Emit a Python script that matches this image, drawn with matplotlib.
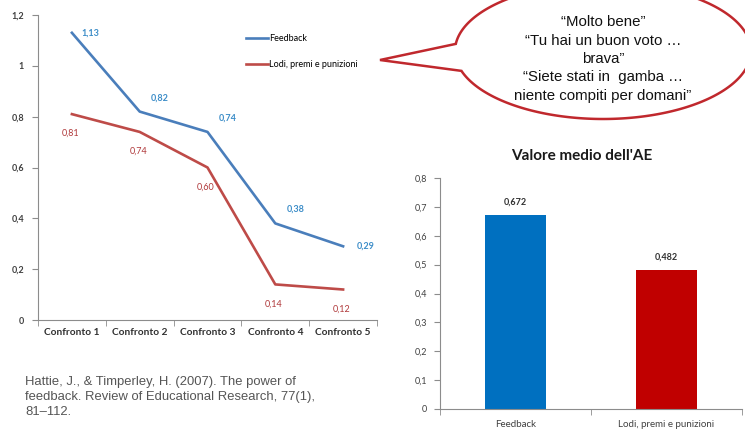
import numpy as np
import matplotlib
matplotlib.use("Agg")
import matplotlib.pyplot as plt
from matplotlib.patches import Polygon

# data
confronti = ["Confronto 1", "Confronto 2", "Confronto 3", "Confronto 4", "Confronto 5"]
feedback = [1.13, 0.82, 0.74, 0.38, 0.29]
lodi = [0.81, 0.74, 0.60, 0.14, 0.12]
series_names = ["Feedback", "Lodi, premi e punizioni"]
bar_labels = ["Feedback", "Lodi, premi e punizioni"]
bar_values = [0.672, 0.482]
left_yticks = [0, 0.2, 0.4, 0.6, 0.8, 1.0, 1.2]
right_yticks = [0, 0.1, 0.2, 0.3, 0.4, 0.5, 0.6, 0.7, 0.8]
bubble_lines = ["\u201cMolto bene\u201d", "\u201cTu hai un buon voto \u2026", "brava\u201d",
                "\u201cSiete stati in  gamba \u2026", "niente compiti per domani\u201d"]
citation = ("Hattie, J., & Timperley, H. (2007). The power of\n"
            "feedback. Review of Educational Research, 77(1),\n"
            "81\u2013112.")

BLUE_LINE = "#4A7EBB"
RED_LINE = "#BE4B48"
BLUE_LBL = "#3C8DC8"
RED_LBL = "#B0393B"
BLUE_BAR = "#0070C0"
RED_BAR = "#C00000"
AXC = "#8C8C8C"
TXT = "#404040"


def comma(v, nd=None):
    s = f"{v:g}" if nd is None else f"{v:.{nd}f}"
    return s.replace(".", ",")


W, H = 745, 429
fig = plt.figure(figsize=(W / 100, H / 100), dpi=100)
fig.patch.set_facecolor("white")


def frac(l, t, r, b):
    return [l / W, 1 - b / H, (r - l) / W, (b - t) / H]


# ---- left line chart ----
ax = fig.add_axes(frac(38, 15, 377, 320))
x = np.arange(len(confronti))
ax.plot(x, feedback, color=BLUE_LINE, lw=1.9, label=series_names[0])
ax.plot(x, lodi, color=RED_LINE, lw=1.9, label=series_names[1])
ax.set_xlim(-0.5, len(confronti) - 0.5)
ax.set_ylim(0, 1.2)
ax.set_yticks(left_yticks)
ax.set_yticklabels([comma(v) for v in left_yticks], fontsize=6.5, color=TXT,
                   family="Lato", fontweight="bold")
ax.set_xticks(x)
ax.set_xticklabels(confronti, fontsize=7.3, color="#303030", family="Lato",
                   fontweight="bold")
ax.set_xticks(np.arange(len(confronti) + 1) - 0.5, minor=True)
ax.tick_params(axis="x", which="major", length=0, pad=6)
ax.tick_params(axis="x", which="minor", length=4, color=AXC)
ax.tick_params(axis="y", length=4, color=AXC, pad=6)
for s in ["top", "right"]:
    ax.spines[s].set_visible(False)
for s in ["left", "bottom"]:
    ax.spines[s].set_color(AXC)

blue_off = [(7, 0), (8, 10), (8, 10), (8, 10), (10, 0)]
for i, v in enumerate(feedback):
    ax.annotate(comma(v, 2), (x[i], v), xytext=blue_off[i], textcoords="offset points",
                ha="left", va="center", fontsize=6.5, color=BLUE_LBL, family="Lato",
                fontweight="bold")
for i, v in enumerate(lodi):
    ax.annotate(comma(v, 2), (x[i], v), xytext=(-1, -14), textcoords="offset points",
                ha="center", va="center", fontsize=6.5, color=RED_LBL, family="Lato")

ax.legend(loc="upper left", bbox_to_anchor=(0.59, 0.965), frameon=False,
          handlelength=2.4, handletextpad=0.1, labelspacing=1.9,
          prop={"family": "Lato", "size": 6.5})

# ---- right bar chart ----
bx = fig.add_axes(frac(440, 178, 742, 409))
xb = np.arange(len(bar_labels))
bx.bar(xb, bar_values, width=0.4, color=[BLUE_BAR, RED_BAR])
bx.set_xlim(-0.5, len(bar_labels) - 0.5)
bx.set_ylim(0, 0.8)
bx.set_yticks(right_yticks)
bx.set_yticklabels([comma(v) for v in right_yticks], fontsize=6.5, color=TXT,
                   family="Lato")
bx.set_xticks(xb)
bx.set_xticklabels(bar_labels, fontsize=7, color=TXT, family="Lato")
bx.set_xticks(np.arange(len(bar_labels) + 1) - 0.5, minor=True)
bx.tick_params(axis="x", which="major", length=0, pad=8)
bx.tick_params(axis="x", which="minor", length=4, color=AXC)
bx.tick_params(axis="y", length=4, color=AXC, pad=5)
for s in ["top", "right"]:
    bx.spines[s].set_visible(False)
for s in ["left", "bottom"]:
    bx.spines[s].set_color(AXC)
for i, v in enumerate(bar_values):
    bx.annotate(comma(v, 3), (xb[i], v), xytext=(0, 9), textcoords="offset points",
                ha="center", va="center", fontsize=6.5, color="#303030",
                family="Lato", fontweight="bold")
fig.text(582 / W, 1 - 156 / H, "Valore medio dell'AE", ha="center", va="center",
         fontsize=11, fontweight="bold", family="Lato", color="#1a1a1a")

# ---- speech bubble and citation (pixel overlay) ----
ov = fig.add_axes([0, 0, 1, 1], zorder=5)
ov.set_xlim(0, W)
ov.set_ylim(H, 0)
ov.axis("off")
ov.patch.set_alpha(0)
cx, cy, a, b = 603, 51, 148, 68
t = np.deg2rad(np.linspace(186, 163 + 360, 400))
pts = np.column_stack([cx + a * np.cos(t), cy + b * np.sin(t)])
pts = np.vstack([pts, [380, 60]])
ov.add_patch(Polygon(pts, closed=True, facecolor="white", edgecolor="#C0282D", lw=1.8))
ov.text(cx, 59, "\n".join(bubble_lines), ha="center", va="center", fontsize=10.8,
        family="Liberation Sans", color="#111111", linespacing=1.4)

ov.text(25, 397, citation, ha="left", va="center", fontsize=9.4,
        family="Liberation Sans", color="#555555", linespacing=1.3)

fig.savefig("out.png", dpi=100)
